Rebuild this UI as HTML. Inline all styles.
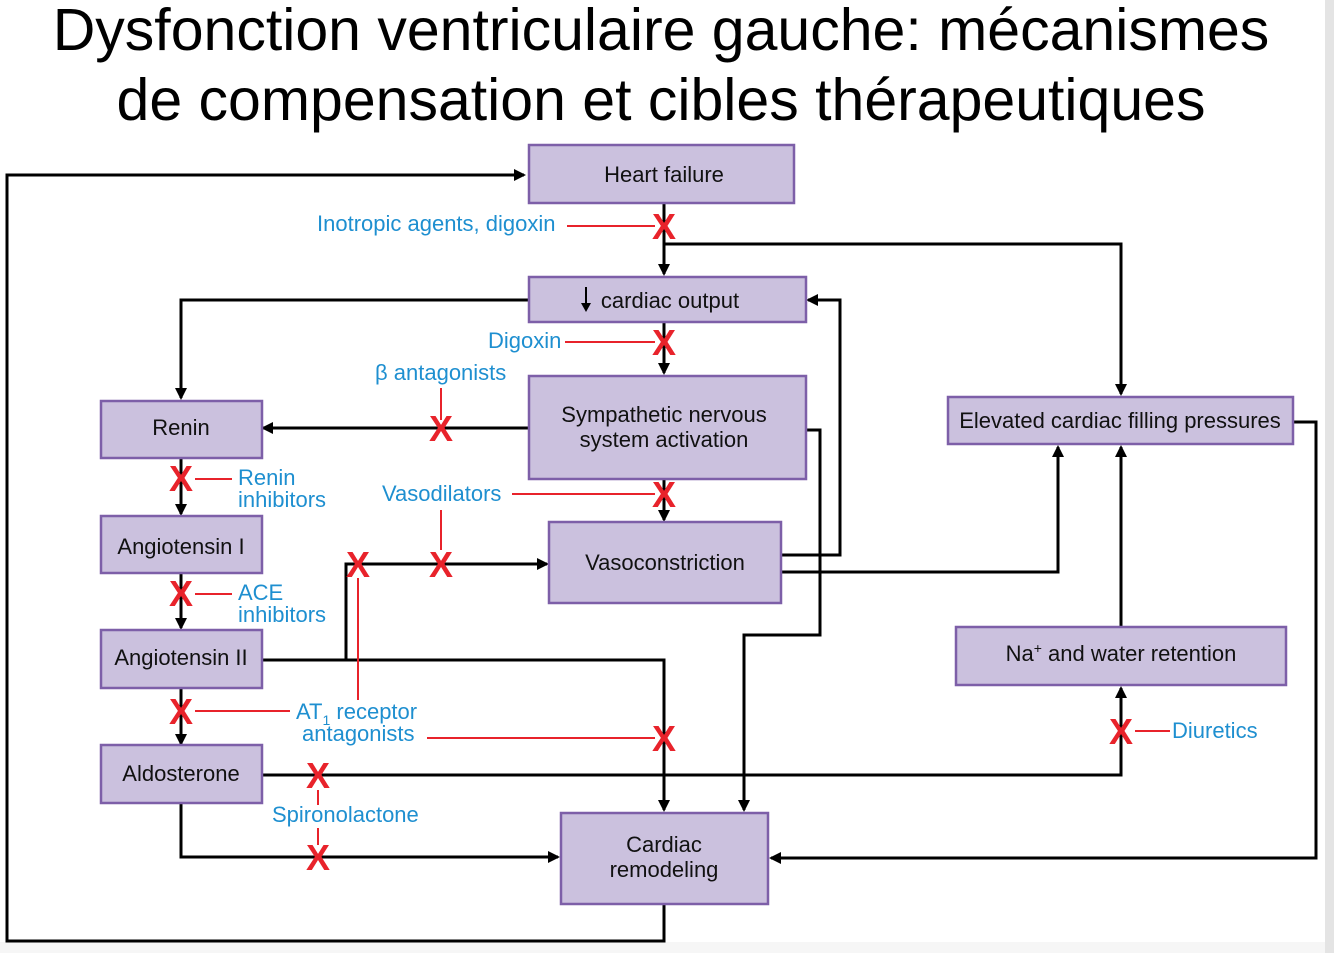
<!DOCTYPE html>
<html><head><meta charset="utf-8"><style>
html,body{margin:0;padding:0;background:#fff;}
svg{display:block;font-family:"Liberation Sans",sans-serif;}
.b{fill:#cbc1de;stroke:#7d5fa8;stroke-width:2.5}
.t{font-size:22px;fill:#111;text-anchor:middle}
.l{stroke:#000;stroke-width:3;fill:none}
.r{stroke:#e8232b;stroke-width:2;fill:none}
.c{font-size:22px;fill:#1e8fd0}
.x{font-size:36px;font-weight:bold;fill:#e8232b;text-anchor:middle}
</style></head><body>
<svg width="1334" height="953" viewBox="0 0 1334 953">
<defs><marker id="a" markerWidth="12" markerHeight="12" refX="10" refY="6" orient="auto" markerUnits="userSpaceOnUse"><path d="M0,0 L12,6 L0,12 z" fill="#000"/></marker></defs>
<rect x="1325" y="0" width="9" height="953" fill="#e4e4e4"/>
<rect x="0" y="942" width="1325" height="11" fill="#f6f6f6"/>
<text x="661" y="50" font-size="59" text-anchor="middle" fill="#000">Dysfonction ventriculaire gauche: mécanismes</text>
<text x="661" y="120" font-size="59" text-anchor="middle" fill="#000">de compensation et cibles thérapeutiques</text>

<path class="l" d="M664,904 V941 H7 V175 H524" marker-end="url(#a)"/>
<path class="l" d="M664,203 V274" marker-end="url(#a)"/>
<path class="l" d="M664,244 H1121 V394" marker-end="url(#a)"/>
<path class="l" d="M529,300 H181 V398" marker-end="url(#a)"/>
<path class="l" d="M664,322 V373" marker-end="url(#a)"/>
<path class="l" d="M529,428 H263" marker-end="url(#a)"/>
<path class="l" d="M664,479 V520" marker-end="url(#a)"/>
<path class="l" d="M181,458 V514" marker-end="url(#a)"/>
<path class="l" d="M181,573 V628" marker-end="url(#a)"/>
<path class="l" d="M262,660 H664 V810" marker-end="url(#a)"/>
<path class="l" d="M346,660 V564 H547" marker-end="url(#a)"/>
<path class="l" d="M181,688 V744" marker-end="url(#a)"/>
<path class="l" d="M262,775 H1121 V688" marker-end="url(#a)"/>
<path class="l" d="M181,803 V857 H558" marker-end="url(#a)"/>
<path class="l" d="M806,430 H820 V635 H744 V810" marker-end="url(#a)"/>
<path class="l" d="M781,555 H840 V300 H808" marker-end="url(#a)"/>
<path class="l" d="M781,572 H1058 V447" marker-end="url(#a)"/>
<path class="l" d="M1121,627 V447" marker-end="url(#a)"/>
<path class="l" d="M1293,422 H1316 V858 H771" marker-end="url(#a)"/>

<path class="r" d="M567,226 H655"/>
<path class="r" d="M565,342 H655"/>
<path class="r" d="M441,388 V420"/>
<path class="r" d="M512,494 H655"/>
<path class="r" d="M195,479 H232"/>
<path class="r" d="M195,594 H232"/>
<path class="r" d="M441,510 V550"/>
<path class="r" d="M358,578 V700"/>
<path class="r" d="M195,711 H290"/>
<path class="r" d="M427,738 H655"/>
<path class="r" d="M1135,731 H1170"/>
<path class="r" d="M318,790 V805 M318,828 V845"/>

<rect class="b" x="529" y="145" width="265" height="58"/>
<text class="t" x="664" y="182">Heart failure</text>
<rect class="b" x="529" y="277" width="277" height="45"/>
<text class="t" x="670" y="308">cardiac output</text>
<path d="M586,287 V306" stroke="#000" stroke-width="2"/><path d="M581,303 L586,312 L591,303 z" fill="#000"/>
<rect class="b" x="101" y="401" width="161" height="57"/>
<text class="t" x="181" y="435">Renin</text>
<rect class="b" x="529" y="376" width="277" height="103"/>
<text class="t" x="664" y="422">Sympathetic nervous</text>
<text class="t" x="664" y="447">system activation</text>
<rect class="b" x="948" y="397" width="345" height="47"/>
<text class="t" x="1120" y="428">Elevated cardiac filling pressures</text>
<rect class="b" x="101" y="516" width="161" height="57"/>
<text class="t" x="181" y="554">Angiotensin I</text>
<rect class="b" x="549" y="522" width="232" height="81"/>
<text class="t" x="665" y="570">Vasoconstriction</text>
<rect class="b" x="101" y="630" width="161" height="58"/>
<text class="t" x="181" y="665">Angiotensin II</text>
<rect class="b" x="956" y="627" width="330" height="58"/>
<text class="t" x="1121" y="661">Na<tspan font-size="14" dy="-8">+</tspan><tspan dy="8"> and water retention</tspan></text>
<rect class="b" x="101" y="745" width="161" height="58"/>
<text class="t" x="181" y="781">Aldosterone</text>
<rect class="b" x="561" y="813" width="207" height="91"/>
<text class="t" x="664" y="852">Cardiac</text>
<text class="t" x="664" y="877">remodeling</text>

<text class="c" x="317" y="231">Inotropic agents, digoxin</text>
<text class="c" x="488" y="348">Digoxin</text>
<text class="c" x="375" y="380">β antagonists</text>
<text class="c" x="382" y="501">Vasodilators</text>
<text class="c" x="238" y="485">Renin</text>
<text class="c" x="238" y="507">inhibitors</text>
<text class="c" x="238" y="600">ACE</text>
<text class="c" x="238" y="622">inhibitors</text>
<text class="c" x="296" y="719">AT<tspan font-size="14" dy="6">1</tspan><tspan dy="-6"> receptor</tspan></text>
<text class="c" x="302" y="741">antagonists</text>
<text class="c" x="272" y="822">Spironolactone</text>
<text class="c" x="1172" y="738">Diuretics</text>

<text class="x" x="664" y="239">X</text>
<text class="x" x="664" y="355">X</text>
<text class="x" x="441" y="441">X</text>
<text class="x" x="664" y="507">X</text>
<text class="x" x="181" y="491">X</text>
<text class="x" x="181" y="606">X</text>
<text class="x" x="358" y="577">X</text>
<text class="x" x="441" y="577">X</text>
<text class="x" x="181" y="724">X</text>
<text class="x" x="664" y="751">X</text>
<text class="x" x="318" y="788">X</text>
<text class="x" x="318" y="870">X</text>
<text class="x" x="1121" y="744">X</text>
</svg>
</body></html>
